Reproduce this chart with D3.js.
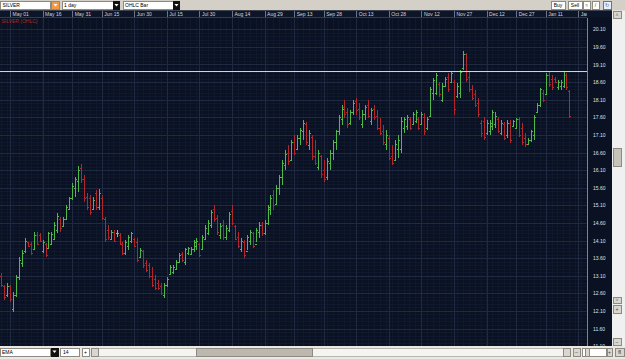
<!DOCTYPE html>
<html>
<head>
<meta charset="utf-8">
<script src="https://cdn.jsdelivr.net/npm/d3@7"></script>
<style>
  body { margin: 0; background: #d4d0c8; overflow: hidden; }
  svg { display: block; font-family: "Liberation Sans", Arial, sans-serif; }
</style>
</head>
<body>
<svg width="625" height="359"></svg>
<script>
const width = 625, height = 359;
const svg = d3.select("svg");

// Daily SILVER bars (trading days)
const dates = [
  "2009-04-27","2009-04-28","2009-04-29","2009-04-30","2009-05-01",
  "2009-05-04","2009-05-05","2009-05-06","2009-05-07","2009-05-08",
  "2009-05-11","2009-05-12","2009-05-13","2009-05-14","2009-05-15",
  "2009-05-18","2009-05-19","2009-05-20","2009-05-21","2009-05-22",
  "2009-05-25","2009-05-26","2009-05-27","2009-05-28","2009-05-29",
  "2009-06-01","2009-06-02","2009-06-03","2009-06-04","2009-06-05",
  "2009-06-08","2009-06-09","2009-06-10","2009-06-11","2009-06-12",
  "2009-06-15","2009-06-16","2009-06-17","2009-06-18","2009-06-19",
  "2009-06-22","2009-06-23","2009-06-24","2009-06-25","2009-06-26",
  "2009-06-29","2009-06-30","2009-07-01","2009-07-02","2009-07-03",
  "2009-07-06","2009-07-07","2009-07-08","2009-07-09","2009-07-10",
  "2009-07-13","2009-07-14","2009-07-15","2009-07-16","2009-07-17",
  "2009-07-20","2009-07-21","2009-07-22","2009-07-23","2009-07-24",
  "2009-07-27","2009-07-28","2009-07-29","2009-07-30","2009-07-31",
  "2009-08-03","2009-08-04","2009-08-05","2009-08-06","2009-08-07",
  "2009-08-10","2009-08-11","2009-08-12","2009-08-13","2009-08-14",
  "2009-08-17","2009-08-18","2009-08-19","2009-08-20","2009-08-21",
  "2009-08-24","2009-08-25","2009-08-26","2009-08-27","2009-08-28",
  "2009-08-31","2009-09-01","2009-09-02","2009-09-03","2009-09-04",
  "2009-09-07","2009-09-08","2009-09-09","2009-09-10","2009-09-11",
  "2009-09-14","2009-09-15","2009-09-16","2009-09-17","2009-09-18",
  "2009-09-21","2009-09-22","2009-09-23","2009-09-24","2009-09-25",
  "2009-09-28","2009-09-29","2009-09-30","2009-10-01","2009-10-02",
  "2009-10-05","2009-10-06","2009-10-07","2009-10-08","2009-10-09",
  "2009-10-12","2009-10-13","2009-10-14","2009-10-15","2009-10-16",
  "2009-10-19","2009-10-20","2009-10-21","2009-10-22","2009-10-23",
  "2009-10-26","2009-10-27","2009-10-28","2009-10-29","2009-10-30",
  "2009-11-02","2009-11-03","2009-11-04","2009-11-05","2009-11-06",
  "2009-11-09","2009-11-10","2009-11-11","2009-11-12","2009-11-13",
  "2009-11-16","2009-11-17","2009-11-18","2009-11-19","2009-11-20",
  "2009-11-23","2009-11-24","2009-11-25","2009-11-26","2009-11-27",
  "2009-11-30","2009-12-01","2009-12-02","2009-12-03","2009-12-04",
  "2009-12-07","2009-12-08","2009-12-09","2009-12-10","2009-12-11",
  "2009-12-14","2009-12-15","2009-12-16","2009-12-17","2009-12-18",
  "2009-12-21","2009-12-22","2009-12-23","2009-12-24","2009-12-25",
  "2009-12-28","2009-12-29","2009-12-30","2009-12-31","2010-01-01",
  "2010-01-04","2010-01-05","2010-01-06","2010-01-07","2010-01-08",
  "2010-01-11","2010-01-12","2010-01-13","2010-01-14","2010-01-15",
  "2010-01-18","2010-01-19","2010-01-20","2010-01-21"
];

const opens = [
  13.15,13.10,12.80,12.55,12.80, 12.15,12.55,13.05,13.45,13.80,
  14.05,14.00,13.85,14.25,14.25, 13.80,14.00,13.90,14.00,14.15,
  14.40,14.70,14.50,14.70,15.00, 15.30,15.60,15.80,16.15,15.85,
  15.35,15.30,15.00,15.45,15.05, 15.30,14.70,14.40,14.15,14.35,
  14.30,14.25,14.00,13.75,13.95, 14.10,14.15,14.05,13.62,13.80,
  13.45,13.40,13.10,13.00,12.90, 12.80,12.55,12.85,13.15,13.20,
  13.30,13.50,13.72,13.50,13.75, 13.72,13.85,13.95,14.00,13.85,
  14.15,14.30,14.55,15.00,14.75, 14.25,14.55,14.20,14.40,14.95,
  14.50,14.20,13.85,14.05,13.80, 14.10,14.30,14.00,14.35,14.55,
  14.30,14.60,15.00,15.40,15.15, 15.60,15.90,16.25,16.60,16.40,
  16.90,16.70,17.00,17.20,17.40, 16.80,17.05,16.50,16.20,16.50,
  16.10,15.90,16.30,16.60,16.90, 17.20,17.55,17.90,17.75,17.45,
  17.75,18.05,17.85,17.40,17.70, 17.95,17.50,17.85,17.65,17.30,
  17.20,16.85,17.00,16.50,16.40, 16.70,16.70,17.30,17.35,17.55,
  17.40,17.50,17.55,17.40,17.60, 17.30,17.65,18.30,18.30,18.55,
  18.10,18.50,18.75,18.60,18.60, 18.20,18.30,19.00,19.40,18.75,
  18.40,18.25,18.00,17.45,17.50, 17.15,17.20,17.35,17.40,17.55,
  17.15,17.40,17.10,17.45,17.35, 17.30,17.55,17.30,17.00,16.85,
  16.95,17.10,17.75,17.95,18.30, 18.25,18.80,18.70,18.70,18.45,
  18.50,18.50,18.80,18.35
];

const highs = [
  13.25,13.18,12.84,12.90,12.84, 12.63,13.12,13.62,13.83,14.17,
  14.06,14.06,14.34,14.34,14.30, 14.11,14.03,14.34,14.34,14.63,
  14.88,14.77,14.77,15.11,15.34, 15.73,15.90,16.21,16.27,15.95,
  15.45,15.40,15.34,15.53,15.56, 15.39,14.77,14.54,14.40,14.40,
  14.40,14.31,14.06,14.11,14.26, 14.34,14.17,14.17,13.88,13.83,
  13.55,13.46,13.35,13.12,12.98, 12.90,12.90,13.07,13.41,13.40,
  13.55,13.75,13.78,13.88,13.91, 13.91,14.11,14.17,14.03,14.26,
  14.54,14.68,14.97,15.11,14.82, 14.60,14.68,14.54,14.90,15.11,
  14.54,14.34,14.17,14.11,14.26, 14.40,14.34,14.46,14.63,14.63,
  14.68,15.11,15.39,15.53,15.68, 15.96,16.39,16.67,16.81,16.96,
  17.10,17.10,17.30,17.52,17.46, 17.24,17.10,16.96,16.67,16.53,
  16.39,16.44,16.67,16.96,17.24, 17.66,17.95,18.09,17.86,17.81,
  18.09,18.15,18.00,17.81,17.95, 18.09,17.86,17.95,17.81,17.58,
  17.38,17.24,17.10,16.81,16.96, 17.10,17.60,17.60,17.66,17.60,
  17.75,17.81,17.60,17.75,17.72, 17.60,18.46,18.72,18.86,18.60,
  18.58,18.75,18.86,18.89,18.66, 18.58,18.94,19.48,19.43,18.89,
  18.52,18.38,18.15,17.52,17.60, 17.52,17.52,17.81,17.75,17.60,
  17.52,17.46,17.52,17.52,17.52, 17.58,17.60,17.44,17.15,17.01,
  17.24,17.66,18.00,18.43,18.38, 18.86,18.89,18.80,18.75,18.66,
  18.66,18.89,18.86,18.38
];

const lows = [
  12.85,12.78,12.41,12.50,12.36, 12.07,12.50,12.98,13.35,13.74,
  13.92,13.69,13.83,13.97,14.05, 13.74,13.63,13.88,13.97,14.11,
  14.31,14.34,14.48,14.68,14.97, 15.25,15.34,15.48,15.73,15.20,
  14.97,14.82,14.97,14.97,14.97, 14.68,14.06,14.11,14.11,14.06,
  14.20,13.97,13.69,13.69,13.83, 14.03,13.92,13.49,13.60,13.32,
  13.20,13.03,12.78,12.70,12.70, 12.55,12.47,12.78,13.12,13.15,
  13.26,13.46,13.49,13.41,13.69, 13.69,13.77,13.83,13.63,13.83,
  14.11,14.26,14.46,14.63,14.26, 14.15,14.11,14.11,14.34,14.54,
  14.11,13.88,13.77,13.60,13.83, 13.97,13.88,14.06,14.17,14.23,
  14.26,14.54,14.82,14.97,15.11, 15.39,15.68,16.10,16.24,16.39,
  16.53,16.67,16.81,16.96,16.81, 16.67,16.39,16.24,16.10,15.88,
  15.76,15.82,16.10,16.39,16.67, 17.10,17.38,17.58,17.29,17.38,
  17.66,17.66,17.52,17.29,17.52, 17.58,17.38,17.52,17.24,17.10,
  16.81,16.67,16.39,16.24,16.39, 16.44,16.60,17.15,17.24,17.24,
  17.38,17.44,17.24,17.38,17.10, 17.24,17.61,18.09,18.23,18.18,
  18.03,18.46,18.32,18.58,17.66, 18.15,18.15,18.94,18.60,18.32,
  18.09,17.89,17.61,17.04,16.96, 17.10,17.10,17.24,17.29,17.15,
  17.10,16.96,17.01,16.87,17.32, 17.29,17.04,16.81,16.76,16.81,
  16.90,16.96,17.72,17.89,18.03, 18.23,18.46,18.38,18.58,18.38,
  18.38,18.43,18.38,17.58
];

const closes = [
  12.95,12.85,12.50,12.80,12.45, 12.55,13.05,13.55,13.75,14.10,
  13.95,13.75,14.25,14.00,14.08, 14.05,13.70,14.30,14.28,14.55,
  14.80,14.45,14.70,15.05,15.30, 15.65,15.85,16.10,15.85,15.30,
  15.05,14.90,15.25,15.05,15.45, 14.75,14.15,14.20,14.35,14.10,
  14.30,14.00,13.75,14.05,14.20, 14.30,13.95,13.55,13.82,13.40,
  13.25,13.10,12.85,12.75,12.75, 12.60,12.85,13.00,13.35,13.35,
  13.50,13.70,13.55,13.85,13.88, 13.85,14.05,14.10,13.70,14.20,
  14.45,14.60,14.90,14.70,14.35, 14.50,14.20,14.45,14.85,14.60,
  14.15,13.95,14.10,13.70,14.20, 14.35,13.95,14.40,14.55,14.30,
  14.60,15.05,15.30,15.10,15.60, 15.90,16.30,16.55,16.35,16.90,
  16.60,17.00,17.25,17.45,16.90, 17.15,16.50,16.30,16.60,16.00,
  15.85,16.35,16.60,16.90,17.20, 17.60,17.85,17.70,17.40,17.75,
  18.00,17.80,17.60,17.70,17.90, 17.65,17.80,17.60,17.30,17.15,
  16.90,17.10,16.45,16.30,16.85, 16.95,17.50,17.55,17.60,17.30,
  17.70,17.75,17.30,17.70,17.20, 17.55,18.40,18.65,18.80,18.25,
  18.50,18.70,18.40,18.85,17.85, 18.50,18.90,19.40,18.70,18.40,
  18.15,17.95,17.70,17.15,17.05, 17.45,17.45,17.75,17.65,17.20,
  17.45,17.00,17.45,16.95,17.50, 17.55,17.10,16.90,16.85,16.95,
  17.20,17.60,17.95,18.40,18.10, 18.80,18.55,18.45,18.60,18.60,
  18.60,18.80,18.45,17.65
];

// header date labels and price axis ticks
const dateTicks = ["2009-05-01","2009-05-16","2009-05-31","2009-06-15","2009-06-30",
  "2009-07-15","2009-07-30","2009-08-14","2009-08-29","2009-09-13","2009-09-28",
  "2009-10-13","2009-10-28","2009-11-12","2009-11-27","2009-12-12","2009-12-27",
  "2010-01-11","2010-01-26"];
const priceTicks = [11.10, 11.60, 12.10, 12.60, 13.10, 13.60, 14.10, 14.60, 15.10,
  15.60, 16.10, 16.60, 17.10, 17.60, 18.10, 18.60, 19.10, 19.60, 20.10];
const levelLine = 18.92;

// layout
const plotR = 587, plotT = 17.5, plotB = 346, headT = 10.5, axisR = 612;
const barStep = 2.96, firstX = -1.85;

const parse = d3.timeParse("%Y-%m-%d");
const days = dates.map(parse);

const x = d3.scaleLinear()
    .domain([0, days.length - 1])
    .range([firstX, firstX + (days.length - 1) * barStep]);
const y = d3.scaleLinear().domain([11.10, 20.10]).range([346.1, 29.3]);

// bar index of a calendar date (first trading day on/after it)
function indexOf(date) {
    const i = d3.bisectLeft(days, date);
    if (i < days.length) return i;
    let k = days.length - 1, d = new Date(days[k]);
    while (d < date) {
        d.setDate(d.getDate() + 1);
        if (d.getDay() !== 0 && d.getDay() !== 6) k++;
    }
    return k;
}

const px = v => Math.round(v) + 0.5;

svg.append("rect").attr("width", width).attr("height", height).attr("fill", "#d4d0c8");

const defs = svg.append("defs");
defs.append("clipPath").attr("id", "plotClip")
    .append("rect").attr("x", 0).attr("y", plotT).attr("width", plotR).attr("height", plotB - plotT);
defs.append("clipPath").attr("id", "headClip")
    .append("rect").attr("x", 0).attr("y", headT).attr("width", plotR).attr("height", 8);

// dark panel
svg.append("rect")
    .attr("x", 0).attr("y", headT)
    .attr("width", axisR).attr("height", plotB - headT)
    .attr("fill", "#0a1122");

// fine grid
const fine = svg.append("g").attr("clip-path", "url(#plotClip)")
    .attr("stroke", "#0f182c").attr("stroke-width", 1).attr("shape-rendering", "crispEdges");
d3.range(11.10, 20.2, 0.1).forEach(v => {
    fine.append("line").attr("x1", 0).attr("x2", plotR).attr("y1", px(y(v))).attr("y2", px(y(v)));
});
d3.range(0, plotR, barStep * 2).forEach(v => {
    fine.append("line").attr("x1", px(v + 1)).attr("x2", px(v + 1)).attr("y1", plotT).attr("y2", plotB);
});

// major grid
const grid = svg.append("g").attr("clip-path", "url(#plotClip)")
    .attr("stroke", "#1f2a42").attr("stroke-width", 1).attr("shape-rendering", "crispEdges");
grid.selectAll(".hg").data(priceTicks).join("line")
    .attr("x1", 0).attr("x2", plotR)
    .attr("y1", d => px(y(d))).attr("y2", d => px(y(d)));
const tickX = dateTicks.map(d => x(indexOf(parse(d))));
grid.selectAll(".vg").data(tickX).join("line")
    .attr("x1", d => px(d)).attr("x2", d => px(d))
    .attr("y1", plotT).attr("y2", plotB);

// header strip with date labels
svg.append("rect")
    .attr("x", 0).attr("y", headT).attr("width", axisR).attr("height", 7)
    .attr("fill", "#0d1529");
const head = svg.append("g").attr("clip-path", "url(#headClip)");
head.selectAll("line").data(tickX).join("line")
    .attr("x1", d => px(d)).attr("x2", d => px(d))
    .attr("y1", headT).attr("y2", plotT)
    .attr("stroke", "#6c7386").attr("shape-rendering", "crispEdges");
head.selectAll("text").data(dateTicks).join("text")
    .attr("x", (d, i) => tickX[i] + 2.5)
    .attr("y", 16)
    .attr("fill", "#d0d4dc")
    .style("font-size", "5px")
    .text(d => d3.timeFormat("%b %d")(parse(d)));
svg.append("line")
    .attr("x1", 0).attr("x2", plotR).attr("y1", plotT).attr("y2", plotT)
    .attr("stroke", "#323c50").attr("shape-rendering", "crispEdges");

// OHLC bars
const bars = svg.append("g").attr("clip-path", "url(#plotClip)")
    .attr("shape-rendering", "crispEdges");
const barData = days.map((d, i) => ({ i, o: opens[i], h: highs[i], l: lows[i], c: closes[i] }));
const colour = d => d.c > d.o ? "#4fb848" : d.c < d.o ? "#b3262b" : "#a8a8a8";
const bar = bars.selectAll("g").data(barData).join("g")
    .attr("stroke", colour).attr("stroke-width", 1);
bar.append("line")
    .attr("x1", d => px(x(d.i))).attr("x2", d => px(x(d.i)))
    .attr("y1", d => y(d.h)).attr("y2", d => y(d.l));
bar.append("line")
    .attr("x1", d => px(x(d.i)) - 1.5).attr("x2", d => px(x(d.i)))
    .attr("y1", d => px(y(d.o))).attr("y2", d => px(y(d.o)));
bar.append("line")
    .attr("x1", d => px(x(d.i))).attr("x2", d => px(x(d.i)) + 1.5)
    .attr("y1", d => px(y(d.c))).attr("y2", d => px(y(d.c)));

// horizontal level line
svg.append("line")
    .attr("x1", 0).attr("x2", plotR)
    .attr("y1", px(y(levelLine))).attr("y2", px(y(levelLine)))
    .attr("stroke", "#e6d98a").attr("stroke-width", 1)
    .attr("shape-rendering", "crispEdges");

svg.append("text")
    .attr("x", 1.5).attr("y", 22.5)
    .attr("fill", "#b02a2a")
    .style("font-size", "5px")
    .text("SILVER (OHLC)");

// price axis
svg.append("line")
    .attr("x1", px(plotR)).attr("x2", px(plotR)).attr("y1", plotT).attr("y2", plotB)
    .attr("stroke", "#7d8494").attr("shape-rendering", "crispEdges");
const yAxis = svg.append("g")
    .attr("transform", `translate(${plotR},0)`)
    .call(d3.axisRight(y).tickValues(priceTicks).tickSize(0).tickPadding(6)
        .tickFormat(d3.format(".2f")));
yAxis.select(".domain").remove();
yAxis.selectAll(".tick text")
    .attr("fill", "#dde0e6")
    .style("font-size", "5px")
    .style("font-family", "'Liberation Sans', Arial, sans-serif");

// ---- window chrome ----
function box(x0, y0, w, h, fill, stroke) {
    return svg.append("rect")
        .attr("x", x0 + 0.5).attr("y", y0 + 0.5).attr("width", w).attr("height", h)
        .attr("fill", fill).attr("stroke", stroke || "#8e8a82")
        .attr("shape-rendering", "crispEdges");
}
function label(x0, y0, t, fill, anchor) {
    return svg.append("text")
        .attr("x", x0).attr("y", y0).attr("fill", fill || "#000")
        .attr("text-anchor", anchor || "start")
        .style("font-size", "5px").text(t);
}
function arrow(cx, cy, fill) {
    svg.append("path")
        .attr("d", `M${cx - 2},${cy - 1}L${cx + 2},${cy - 1}L${cx},${cy + 1.5}Z`)
        .attr("fill", fill);
}

// top toolbar
box(0, 1, 50, 8, "#fff");
label(2.5, 7.3, "SILVER");
box(51, 1, 8, 8, "#f29a4a", "#c87a36");
arrow(55.5, 5, "#fff");
box(62, 1, 51, 8, "#fff");
label(64, 7.3, "1 day");
box(113, 1, 6, 8, "#111", "#111");
arrow(116.5, 5, "#fff");
box(123, 1, 50, 8, "#fff");
label(125, 7.3, "OHLC Bar");
box(173, 1, 6, 8, "#111", "#111");
arrow(176.5, 5, "#fff");

box(551, 1, 14, 8, "#fff");
label(558, 7.3, "Buy", "#000", "middle");
box(568, 1, 14, 8, "#fff");
label(575, 7.3, "Sell", "#000", "middle");
box(583, 1, 7, 8, "#fff");
label(586.5, 7.3, "\u2248", "#333", "middle");
box(592, 1, 7, 8, "#fff");
label(595.5, 7.3, "/", "#333", "middle");
box(603, 1, 8, 8, "#e6eef8", "#5577aa");
label(607, 7.3, "\u21bb", "#3366aa", "middle");

// right scrollbar
svg.append("rect").attr("x", 612).attr("y", headT).attr("width", 13).attr("height", plotB - headT)
    .attr("fill", "#f0f0f0");
box(613, 11, 8, 7, "#d8d6d0");
label(617, 16.5, "\u02c4", "#666", "middle");
box(613, 148, 8, 18, "#c6c3bb");
box(613, 297, 8, 6, "#d8d6d0");
label(617, 302, "\u02c5", "#666", "middle");
box(613, 305, 8, 8, "#d8d6d0");
label(617, 311, "+", "#444", "middle");
box(613, 338, 8, 7, "#d8d6d0");
label(617, 343.5, "\u2013", "#444", "middle");

// bottom toolbar
svg.append("rect").attr("x", 0).attr("y", plotB).attr("width", width).attr("height", height - plotB)
    .attr("fill", "#eae8e4");
box(0, 347.5, 50, 8, "#fff");
label(2, 354, "EMA");
box(51, 347.5, 7, 8, "#111", "#111");
arrow(54.5, 351.5, "#fff");
box(60, 347.5, 19, 8, "#fff");
label(63, 354, "14");
box(82, 347.5, 7, 8, "#fff");
label(85.5, 354, "+", "#000", "middle");
box(91, 347.5, 479, 8, "#f4f4f2", "#b8b5ae");
box(91, 347.5, 7, 8, "#d8d6d0");
box(196, 347.5, 116, 8, "#bcb8b0");
box(563, 347.5, 7, 8, "#d8d6d0");
box(573, 347.5, 7, 8, "#d8d6d0");
label(576.5, 354, "\u2013", "#444", "middle");
box(582, 347.5, 24, 8, "#fff");
box(585, 347.5, 4, 8, "#d8d6d0");
box(607, 347.5, 5, 8, "#d8d6d0");
label(609.5, 354, "+", "#444", "middle");
box(615, 347.5, 9, 8, "#d8d6d0");
label(619.5, 354, "fl", "#000", "middle");
</script>
</body>
</html>
